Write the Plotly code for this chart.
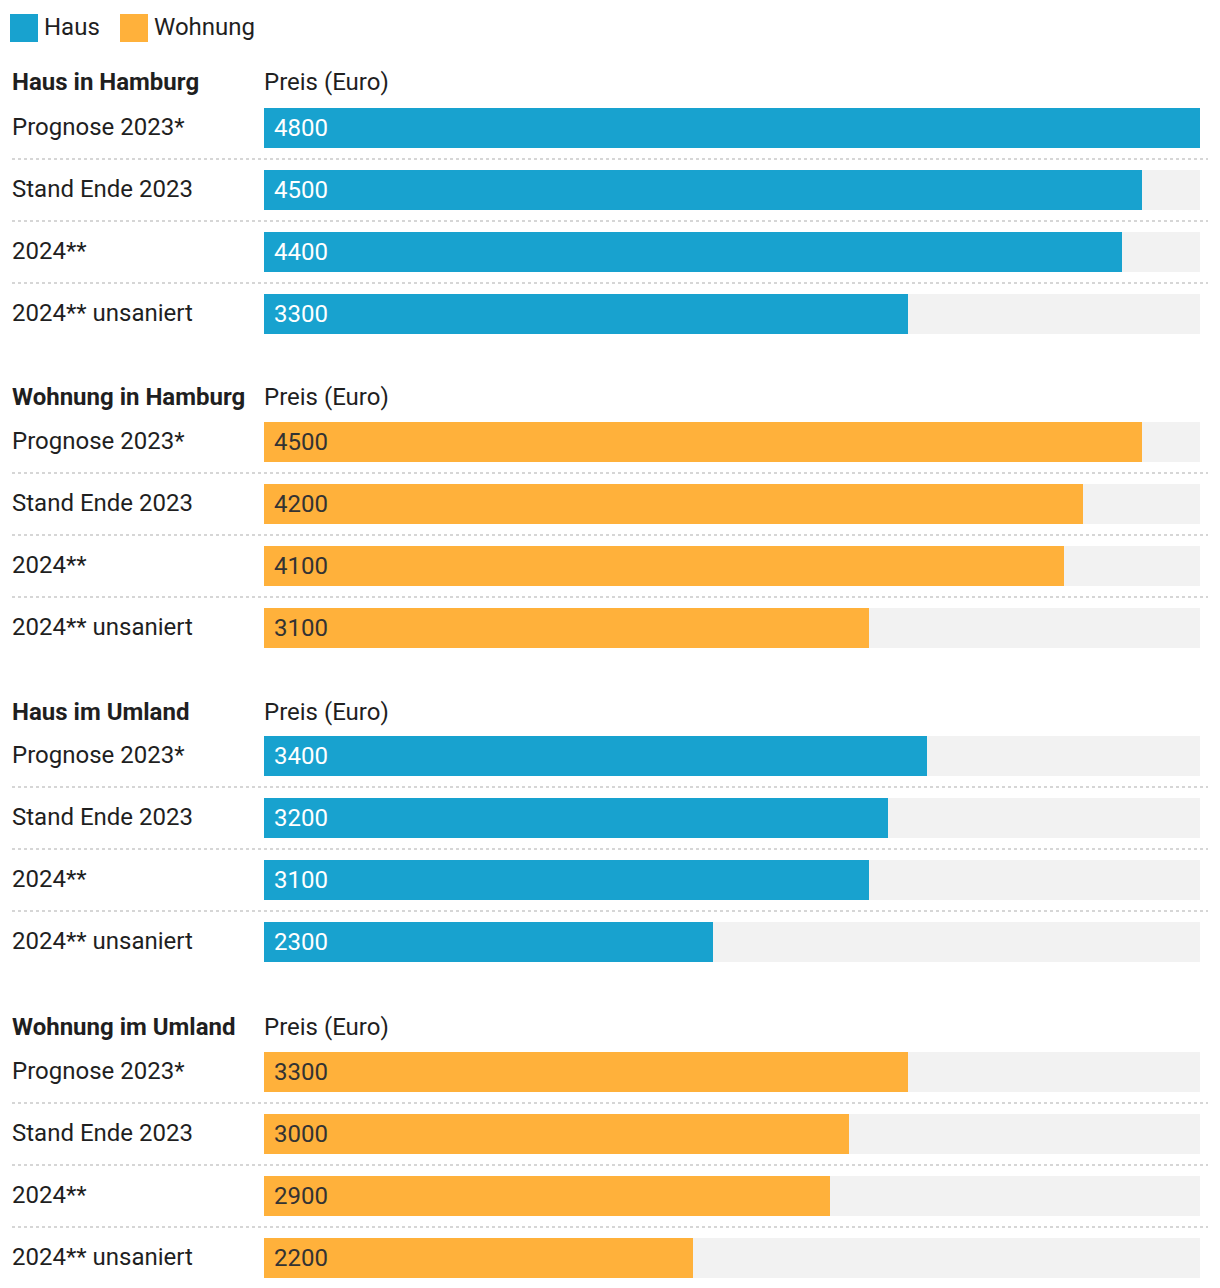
import plotly.graph_objects as go

# ---------------- data ----------------
groups = ["Haus in Hamburg", "Wohnung in Hamburg", "Haus im Umland", "Wohnung im Umland"]
group_type = ["Haus", "Wohnung", "Haus", "Wohnung"]
row_labels = ["Prognose 2023*", "Stand Ende 2023", "2024**", "2024** unsaniert"]
haus_hamburg = [4800, 4500, 4400, 3300]
wohnung_hamburg = [4500, 4200, 4100, 3100]
haus_umland = [3400, 3200, 3100, 2300]
wohnung_umland = [3300, 3000, 2900, 2200]
column_title = "Preis (Euro)"
legend_labels = ["Haus", "Wohnung"]

values = [haus_hamburg, wohnung_hamburg, haus_umland, wohnung_umland]

# ---------------- style / layout ----------------
W, H = 1220, 1288
BLUE = "#18a2cf"
ORANGE = "#ffb13b"
BG = "#f2f2f2"
TXT = "#1f1f1f"
SEP = "#d6d6d6"
FONT = "Roboto"
FS = 24
X0, X1 = 264, 1200
PAD = 2  # annotation inner padding
BAR_H = 40
ROW_STEP = 62
GROUP_FIRST_ROW = [128, 442, 756, 1072]  # pixel centre of first row of each block
HEADER_OFFSET = [46, 45, 44, 45]
colors = {"Haus": BLUE, "Wohnung": ORANGE}
txtcol = {"Haus": "white", "Wohnung": "#333333"}

vmax = max(max(v) for v in values)

fig = go.Figure()
annotations = []
shapes = []

all_y, all_max = [], []
for g, (gname, gtype, vals) in enumerate(zip(groups, group_type, values)):
    ys = [GROUP_FIRST_ROW[g] + i * ROW_STEP for i in range(len(vals))]
    all_y += ys
    all_max += [vmax] * len(vals)
    fig.add_trace(go.Bar(
        x=vals, y=ys, orientation="h", width=BAR_H,
        marker=dict(color=colors[gtype], line=dict(width=0)),
        showlegend=False, hoverinfo="skip", name=gtype))
    # header
    hy = ys[0] - HEADER_OFFSET[g]
    annotations.append(dict(xref="paper", yref="y", x=(12 - PAD) / W, y=hy, xanchor="left", yanchor="middle",
                            text="<b>" + gname + "</b>", showarrow=False,
                            font=dict(family=FONT, size=FS, color=TXT)))
    annotations.append(dict(xref="paper", yref="y", x=(X0 - PAD) / W, y=hy, xanchor="left", yanchor="middle",
                            text=column_title, showarrow=False,
                            font=dict(family=FONT, size=FS, color=TXT)))
    for i, (lab, v, y) in enumerate(zip(row_labels, vals, ys)):
        annotations.append(dict(xref="paper", yref="y", x=(12 - PAD) / W, y=y, yshift=1,
                                xanchor="left", yanchor="middle",
                                text=lab, showarrow=False,
                                font=dict(family=FONT, size=FS, color=TXT)))
        annotations.append(dict(xref="x", yref="y", x=0, y=y, xshift=10 - PAD, xanchor="left", yanchor="middle",
                                text=str(v), showarrow=False,
                                font=dict(family=FONT, size=FS, color=txtcol[gtype])))
        if i < len(vals) - 1:
            sy = y + ROW_STEP / 2
            shapes.append(dict(type="line", xref="paper", yref="y", x0=12 / W, x1=1208 / W,
                               y0=sy, y1=sy, line=dict(color=SEP, width=2, dash="dot"), layer="below"))

# background bars (drawn first)
fig.add_trace(go.Bar(x=all_max, y=all_y, orientation="h", width=BAR_H,
                     marker=dict(color=BG, line=dict(width=0)),
                     showlegend=False, hoverinfo="skip"))
fig.data = (fig.data[-1],) + fig.data[:-1]

# legend (custom)
lx = 10
for lab in legend_labels:
    shapes.append(dict(type="rect", xref="paper", yref="paper", x0=lx / W, x1=(lx + 28) / W,
                       y0=1 - 14 / H, y1=1 - 42 / H, fillcolor=colors[lab], line=dict(width=0)))
    annotations.append(dict(xref="paper", yref="paper", x=(lx + 34 - PAD) / W, y=1 - 27 / H,
                            xanchor="left", yanchor="middle", text=lab, showarrow=False,
                            font=dict(family=FONT, size=FS, color=TXT)))
    lx += 110

fig.update_layout(
    width=W, height=H, margin=dict(l=0, r=0, t=0, b=0),
    paper_bgcolor="white", plot_bgcolor="white",
    barmode="overlay", bargap=0,
    xaxis=dict(domain=[X0 / W, X1 / W], range=[0, vmax], visible=False, fixedrange=True),
    yaxis=dict(domain=[0, 1], range=[H, 0], visible=False, fixedrange=True),
    annotations=annotations, shapes=shapes, showlegend=False,
    font=dict(family=FONT),
)

fig.write_html("out.html")
